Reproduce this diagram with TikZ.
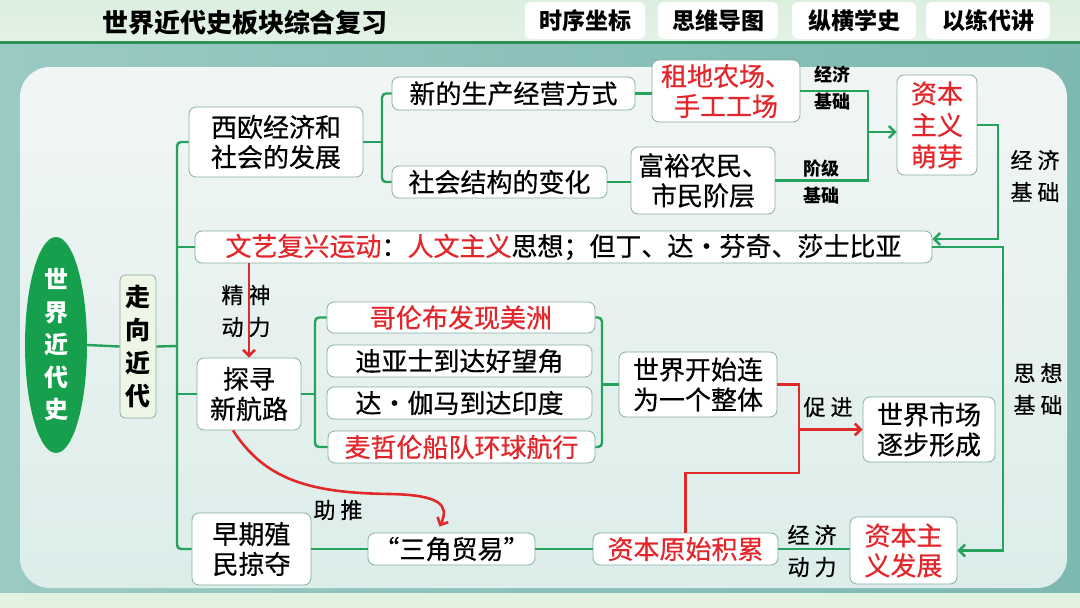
\documentclass[tikz,border=0pt]{standalone}
\usepackage{fontspec}
\setmainfont{Noto Sans CJK SC}[UprightFeatures={FakeBold=0.5}]
\usetikzlibrary{shapes.geometric,arrows.meta,calc}
\definecolor{gline}{HTML}{25A25B}
\definecolor{rline}{HTML}{E02A2A}
\definecolor{rtext}{HTML}{E3262B}
\definecolor{boxc}{HTML}{86AEA1}
\definecolor{egreen}{HTML}{16A04E}
\definecolor{zxfill}{HTML}{EEF6E6}
\definecolor{headc}{HTML}{DCEFDF}
\definecolor{headl}{HTML}{2E9159}
\definecolor{outerl}{HTML}{9ACAC4}
\definecolor{outerr}{HTML}{7DB8B1}
\definecolor{paneltop}{HTML}{F1F6F5}
\definecolor{panelbot}{HTML}{DCEDEA}
\definecolor{bottomc}{HTML}{E2F2E0}
\tikzset{
 bx/.style={draw=boxc, line width=0.8pt, fill=white, rounded corners=7pt, inner sep=0pt, align=center, font=\fontsize{26}{30}\selectfont},
 gl/.style={draw=gline, line width=2.4pt},
 rl/.style={draw=rline, line width=2.6pt},
 ga/.style={gl, -{Straight Barb[length=6pt,width=12pt]}},
 ra/.style={rl, -{Straight Barb[length=6pt,width=12pt]}},
 lbs/.style={inner sep=0pt, align=center, font=\bfseries\fontsize{18}{27}\selectfont},
 lbh/.style={inner sep=0pt, align=center, font=\fontsize{22}{32}\selectfont},
 tabbox/.style={fill=white, rounded corners=6pt, inner sep=0pt, font=\bfseries\fontsize{23}{26}\selectfont}
}
\begin{document}
\begin{tikzpicture}[x=1pt,y=-1pt]
\useasboundingbox (0,0) rectangle (1080,608);
% background
\shade[left color=outerl, right color=outerr] (0,0) rectangle (1080,608);
\shade[top color=headc, bottom color=headc!80!white] (0,0) rectangle (1080,42);
\fill[headl] (0,41) rectangle (1080,44);
\fill[bottomc] (0,593) rectangle (1080,608);
\shade[top color=paneltop, bottom color=panelbot, rounded corners=30pt] (20,67) rectangle (1067,588);
% header
\node[font=\bfseries\fontsize{26}{30}\selectfont, inner sep=0pt] (title) at (245,23) {世界近代史板块综合复习};
\node[tabbox, minimum width=120, minimum height=37] (t1) at (585,20.5) {时序坐标};
\node[tabbox, minimum width=120, minimum height=37] (t2) at (718,20.5) {思维导图};
\node[tabbox, minimum width=124, minimum height=37] (t3) at (854,20.5) {纵横学史};
\node[tabbox, minimum width=124, minimum height=37] (t4) at (988,20.5) {以练代讲};
% labels under lines
\node[lbh] (l5) at (246,311) {精\kern5pt神\\动\kern5pt力};
% nodes
\node[ellipse, fill=egreen, minimum width=62, minimum height=185, inner sep=0pt, align=center, text=white, font=\bfseries\fontsize{24}{32.5}\selectfont] (root) at (56,345) {世\\界\\近\\代\\史};
\node[bx, fill=zxfill, rounded corners=5pt, minimum width=36, minimum height=143, font=\bfseries\fontsize{25}{33}\selectfont] (zx) at (138,346.5) {走\\向\\近\\代};
\node[bx, minimum width=174, minimum height=70] (xo) at (276,142) {西欧经济和\\社会的发展};
\node[bx, minimum width=737, minimum height=32] (wy) at (563.5,247) {{\color{rtext}文艺复兴运动}：{\color{rtext}人文主义}思想；但丁、达・芬奇、莎士比亚};
\node[bx, minimum width=243, minimum height=33] (xs) at (513.5,93.5) {新的生产经营方式};
\node[bx, minimum width=215, minimum height=32] (sh) at (499.5,182) {社会结构的变化};
\node[bx, minimum width=148, minimum height=62, text=rtext] (zd) at (726,91) {租地农场、\\手工工场};
\node[bx, minimum width=144, minimum height=67] (fy) at (703,180.5) {富裕农民、\\市民阶层};
\node[bx, minimum width=80, minimum height=100, text=rtext, font=\fontsize{26}{31.5}\selectfont] (zb) at (937,125) {资本\\主义\\萌芽};
\node[bx, minimum width=104, minimum height=72] (ts) at (249,394) {探寻\\新航路};
\node[bx, minimum width=268, minimum height=31, text=rtext] (g1) at (461,317.5) {哥伦布发现美洲};
\node[bx, minimum width=265, minimum height=32] (g2) at (459.5,361) {迪亚士到达好望角};
\node[bx, minimum width=265, minimum height=32] (g3) at (459.5,403) {达・伽马到达印度};
\node[bx, minimum width=267, minimum height=32, text=rtext] (g4) at (461.5,447) {麦哲伦船队环球航行};
\node[bx, minimum width=158, minimum height=65] (sk) at (698,384.5) {世界开始连\\为一个整体};
\node[bx, minimum width=132, minimum height=65] (sc) at (929,429.5) {世界市场\\逐步形成};
\node[bx, minimum width=119, minimum height=72] (zq) at (251.5,549) {早期殖\\民掠夺};
\node[bx, minimum width=167, minimum height=32] (sj) at (451.5,549) {“三角贸易”};
\node[bx, minimum width=185, minimum height=32, text=rtext] (zy) at (685.5,549) {资本原始积累};
\node[bx, minimum width=107, minimum height=67, text=rtext] (fz) at (903.5,550.5) {资本主\\义发展};
% other labels
\node[lbs] (l1) at (832,88) {经济\\基础};
\node[lbs] (l2) at (821,182) {阶级\\基础};
\node[lbh] (l3) at (1035,176) {经\kern5pt济\\基\kern5pt础};
\node[lbh] (l4) at (1038,389) {思\kern5pt想\\基\kern5pt础};
\node[lbh] (l6) at (828,407) {促\kern5pt进};
\node[lbh] (l7) at (338,510) {助\kern5pt推};
\node[lbh] (l8) at (812,551) {经\kern5pt济\\动\kern5pt力};
% green connectors
\draw[gl] (root.east) -- (zx.west);
\coordinate (b1) at (177,346);
\draw[gl] (zx.east) -- (b1);
\draw[gl, rounded corners=4pt] (xo.west) -- (xo.west -| b1) -- (zq.west -| b1) -- (zq.west);
\draw[gl] (wy.west -| b1) -- (wy.west);
\draw[gl] (ts.west -| b1) -- (ts.west);
\coordinate (b2) at (382,140);
\draw[gl] (xo.east) -- (xo.east -| b2);
\draw[gl, rounded corners=4pt] (xs.west) -- (xs.west -| b2) -- (sh.west -| b2) -- (sh.west);
\draw[gl] (xs.east) -- (xs.east -| zd.west);
\draw[gl] (sh.east) -- (sh.east -| fy.west);
\coordinate (j1) at (868,132);
\draw[gl] (zd.east) -| (j1) |- (fy.east);
\draw[ga] (j1) -- (j1 -| zb.west);
\coordinate (c1) at (998,239);
\draw[ga] (zb.east) -| (c1) -- (c1 -| wy.east);
\coordinate (c2) at (1003,550.5);
\draw[ga] (wy.east) -| (c2) -- (fz.east);
\coordinate (b3) at (315,385);
\draw[gl] (ts.east) -- (ts.east -| b3);
\draw[gl, rounded corners=4pt] (g1.west) -- (g1.west -| b3) -- (g4.west -| b3) -- (g4.west);
\coordinate (b4) at (602,383);
\draw[gl, rounded corners=4pt] (g1.east) -- (g1.east -| b4) -- (g4.east -| b4) -- (g4.east);
\draw[gl] (sk.west -| b4) -- (sk.west);
\draw[gl] (zq.east) -- (sj.west);
\draw[gl] (sj.east) -- (zy.west);
\draw[gl] (zy.east) -- (zy.east -| fz.west);
% red connectors
\draw[ra] (ts.north |- wy.south) -- (ts.north);
\coordinate (r2) at (799,473);
\draw[rl] (sk.east) -| (r2) -| (zy.north);
\coordinate (r1) at (799,429.5);
\draw[ra] (r1) -- (sc.west);
\draw[ra] ([xshift=-16pt]ts.south) .. controls (265,480) and (310,493) .. (390,494) .. controls (440,495) and (450,505) .. ([xshift=-12pt,yshift=6pt]sj.north);
\end{tikzpicture}
\end{document}
